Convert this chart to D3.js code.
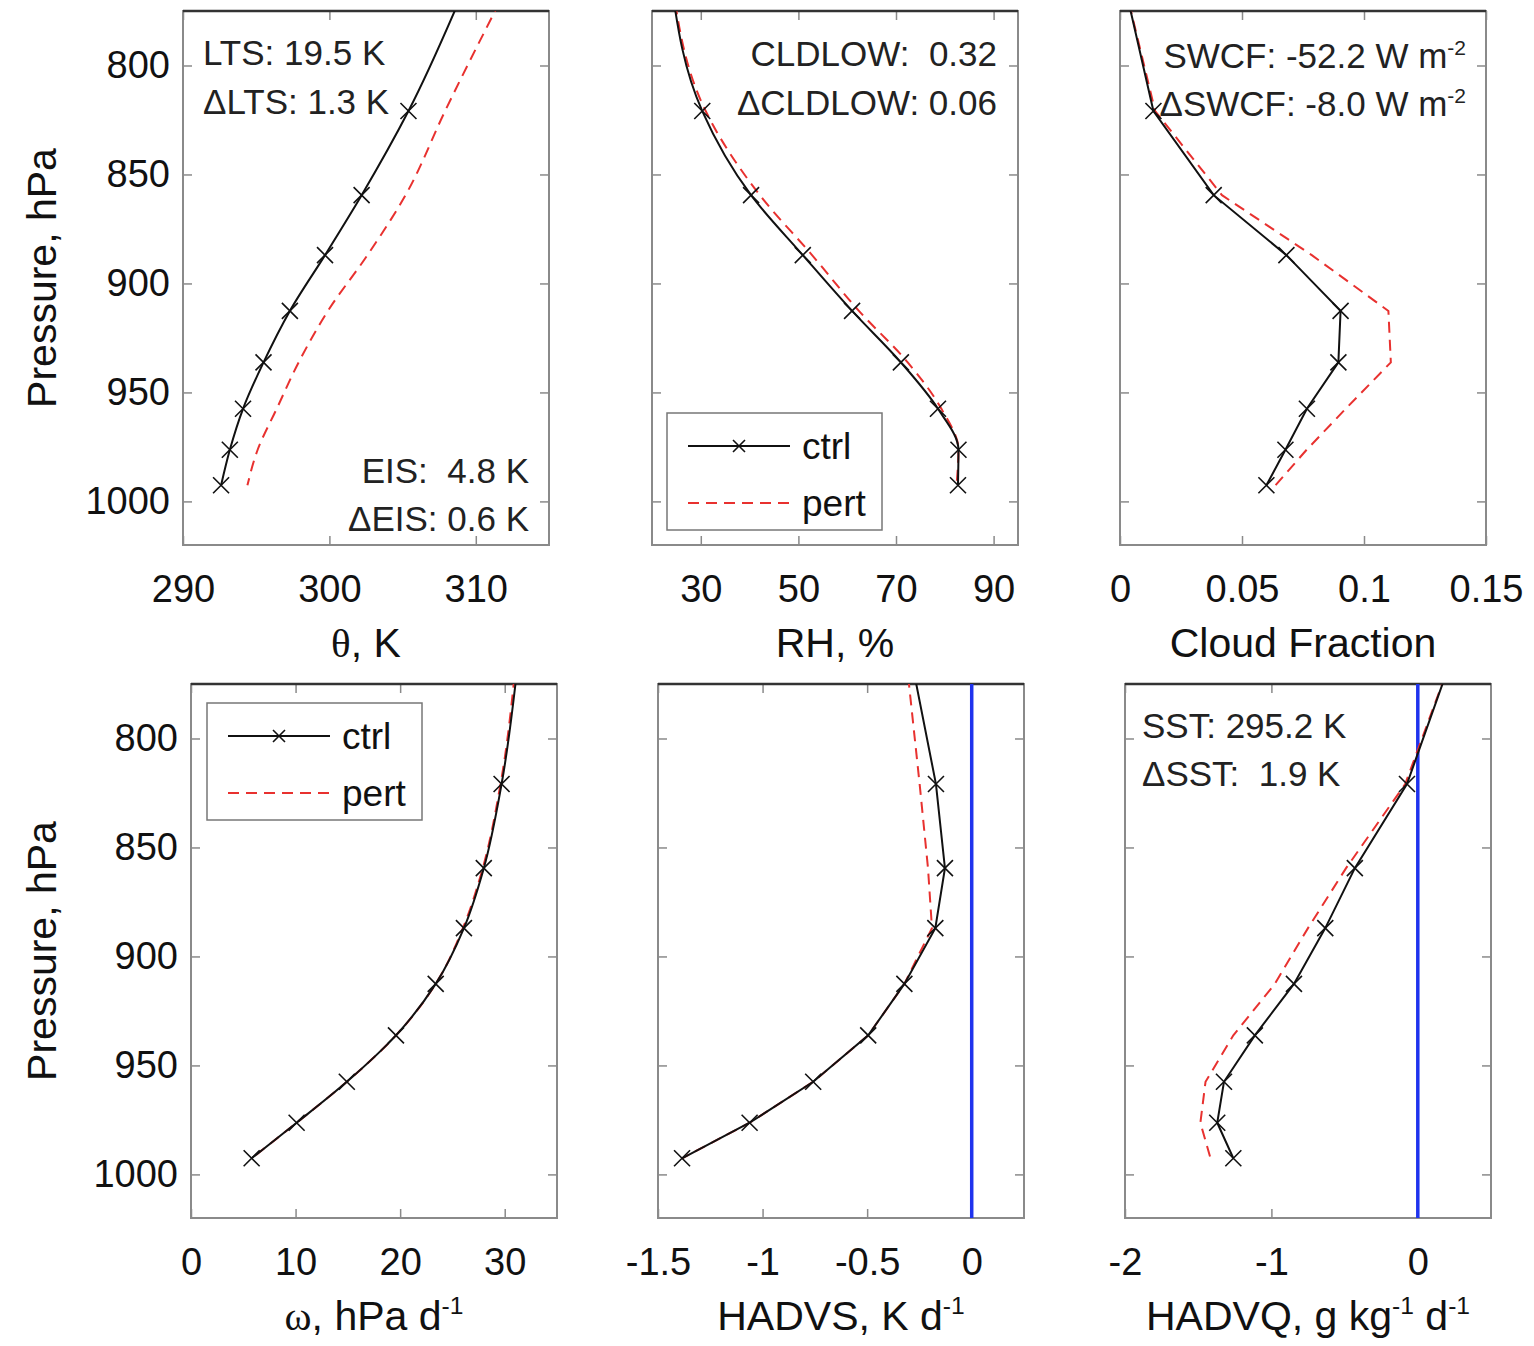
<!DOCTYPE html>
<html>
<head>
<meta charset="utf-8">
<script src="https://cdn.jsdelivr.net/npm/d3@7"></script>
<style>
  body { margin: 0; background: #fff; }
  svg { display: block; font-family: "Liberation Sans", Arial, sans-serif; }
  text { white-space: pre; }
</style>
</head>
<body>
<svg id="fig" width="1534" height="1346"></svg>
<script>
// model levels (hPa) near the surface
const levels = [763.4, 820.9, 859.5, 887.0, 912.6, 936.2, 957.5, 976.3, 992.6];

const thetaCtrl = [309.3, 305.4, 302.2, 299.7, 297.3, 295.5, 294.1, 293.2, 292.6];
const thetaPert = [312.2, 307.9, 305.2, 302.6, 299.9, 297.9, 296.4, 295.1, 294.4];

const rhCtrl = [24.0, 30.3, 40.3, 50.9, 61.0, 71.0, 78.6, 82.8, 82.7];
const rhPert = [24.2, 31.0, 42.1, 52.8, 62.4, 72.4, 79.3, 82.8, 82.4];

const cfCtrl = [0.002, 0.0137, 0.0384, 0.0682, 0.0904, 0.0895, 0.0766, 0.0678, 0.0600];
const cfPert = [0.002, 0.0144, 0.0418, 0.0786, 0.1100, 0.1110, 0.0925, 0.0765, 0.0637];

const omegaCtrl = [31.3, 29.7, 28.0, 26.1, 23.4, 19.6, 14.9, 10.1, 5.8];
const omegaPert = [31.1, 29.6, 27.9, 26.0, 23.4, 19.6, 14.9, 10.1, 5.8];

const hadvsCtrl = [-0.289, -0.171, -0.128, -0.174, -0.322, -0.495, -0.758, -1.062, -1.385];
const hadvsPert = [-0.313, -0.249, -0.209, -0.190, -0.322, -0.495, -0.758, -1.062, -1.385];

const hadvqCtrl = [0.23, -0.074, -0.43, -0.632, -0.846, -1.113, -1.324, -1.37, -1.26];
const hadvqPert = [0.23, -0.086, -0.49, -0.75, -0.977, -1.26, -1.45, -1.485, -1.416];

const pressureTicks = [800, 850, 900, 950, 1000];
const pressureDomain = [775, 1020];

const thetaTicks = [290, 300, 310];
const rhTicks = [30, 50, 70, 90];
const cfTicks = [0, 0.05, 0.1, 0.15];
const omegaTicks = [0, 10, 20, 30];
const hadvsTicks = [-1.5, -1, -0.5, 0];
const hadvqTicks = [-2, -1, 0];

const seriesNames = ["ctrl", "pert"];

const RED = "#e8312f", BLUE = "#1f33ee", FRAME = "#8a8a8a";

const svg = d3.select("#fig");

const panels = [
  { box: [183, 549, 11, 545], xd: [290, 315], xt: thetaTicks, ctrl: thetaCtrl, pert: thetaPert,
    title: [{t: "θ", serif: true}, {t: ", K"}], yLab: true, smooth: true },
  { box: [652, 1018, 11, 545], xd: [20, 95], xt: rhTicks, ctrl: rhCtrl, pert: rhPert,
    title: [{t: "RH, %"}], legend: [667, 413], smooth: true },
  { box: [1120, 1486, 11, 545], xd: [0, 0.15], xt: cfTicks, ctrl: cfCtrl, pert: cfPert,
    title: [{t: "Cloud Fraction"}] },
  { box: [191, 557, 684, 1218], xd: [0, 35], xt: omegaTicks, ctrl: omegaCtrl, pert: omegaPert,
    title: [{t: "ω", serif: true}, {t: ", hPa d"}, {t: "-1", sup: true}], yLab: true, legend: [207, 703], smooth: true },
  { box: [658, 1024, 684, 1218], xd: [-1.5, 0.25], xt: hadvsTicks, ctrl: hadvsCtrl, pert: hadvsPert,
    title: [{t: "HADVS, K d"}, {t: "-1", sup: true}], zero: true },
  { box: [1125, 1491, 684, 1218], xd: [-2, 0.5], xt: hadvqTicks, ctrl: hadvqCtrl, pert: hadvqPert,
    title: [{t: "HADVQ, g kg"}, {t: "-1", sup: true}, {t: " d"}, {t: "-1", sup: true}], zero: true }
];

// rich text helper (superscripts, serif greek letters)
function richText(sel, parts, size) {
  parts.forEach((p, i) => {
    const ts = sel.append("tspan").text(p.t);
    if (p.serif) ts.style("font-family", "'Liberation Serif', 'Times New Roman', serif");
    if (p.sup) {
      ts.attr("dy", -size * 0.38).style("font-size", (size * 0.6) + "px");
    } else if (i > 0 && parts[i - 1].sup) {
      ts.attr("dy", size * 0.38);
    }
  });
}

panels.forEach((pn, idx) => {
  const [x0, x1, y0, y1] = pn.box;
  const x = d3.scaleLinear().domain(pn.xd).range([x0, x1]);
  const y = d3.scaleLinear().domain(pressureDomain).range([y0, y1]);
  const g = svg.append("g");

  const clipId = "clip" + idx;
  svg.append("clipPath").attr("id", clipId)
    .append("rect").attr("x", x0).attr("y", y0).attr("width", x1 - x0).attr("height", y1 - y0);

  const fmt = d => String(d);

  // inward ticks on four sides, labels on bottom (and left column)
  g.append("g").attr("transform", `translate(0,${y1})`)
    .call(d3.axisBottom(x).tickValues(pn.xt).tickFormat(fmt).tickSizeInner(-9).tickSizeOuter(0).tickPadding(30));
  g.append("g").attr("transform", `translate(0,${y0})`)
    .call(d3.axisTop(x).tickValues(pn.xt).tickFormat("").tickSizeInner(-9).tickSizeOuter(0));
  g.append("g").attr("transform", `translate(${x0},0)`)
    .call(d3.axisLeft(y).tickValues(pressureTicks).tickFormat(pn.yLab ? fmt : "").tickSizeInner(-9).tickSizeOuter(0).tickPadding(13));
  g.append("g").attr("transform", `translate(${x1},0)`)
    .call(d3.axisRight(y).tickValues(pressureTicks).tickFormat("").tickSizeInner(-9).tickSizeOuter(0));
  g.selectAll(".domain").remove();
  g.selectAll(".tick line").attr("stroke", FRAME).attr("stroke-width", 1.5);
  g.selectAll(".tick text").attr("fill", "#111").style("font-size", "38px").style("font-family", "'Liberation Sans', Arial, sans-serif");

  // frame
  g.append("rect").attr("x", x0).attr("y", y0).attr("width", x1 - x0).attr("height", y1 - y0)
    .attr("fill", "none").attr("stroke", FRAME).attr("stroke-width", 2);
  g.append("line").attr("x1", x0).attr("x2", x1).attr("y1", y0).attr("y2", y0)
    .attr("stroke", "#333").attr("stroke-width", 2.5);

  const plot = g.append("g").attr("clip-path", `url(#${clipId})`);

  if (pn.zero) {
    plot.append("line").attr("x1", x(0)).attr("x2", x(0)).attr("y1", y0).attr("y2", y1)
      .attr("stroke", BLUE).attr("stroke-width", 3.5);
  }

  const line = d3.line().x(d => x(d[0])).y(d => y(d[1]))
    .curve(pn.smooth ? d3.curveMonotoneY : d3.curveLinear);
  const ctrlPts = pn.ctrl.map((v, i) => [v, levels[i]]);
  const pertPts = pn.pert.map((v, i) => [v, levels[i]]);

  plot.append("path").attr("d", line(pertPts)).attr("fill", "none")
    .attr("stroke", RED).attr("stroke-width", 2).attr("stroke-dasharray", "11,7");
  plot.append("path").attr("d", line(ctrlPts)).attr("fill", "none")
    .attr("stroke", "#111").attr("stroke-width", 2);
  plot.selectAll(".mk").data(ctrlPts).join("path").attr("class", "mk")
    .attr("transform", d => `translate(${x(d[0])},${y(d[1])})`)
    .attr("d", "M-8,-8L8,8M-8,8L8,-8")
    .attr("stroke", "#111").attr("stroke-width", 1.6).attr("fill", "none");

  // axis titles
  const xt = svg.append("text").attr("x", (x0 + x1) / 2).attr("y", y1 + 112)
    .attr("text-anchor", "middle").style("font-size", "41px").attr("fill", "#111");
  richText(xt, pn.title, 41);

  if (pn.yLab) {
    svg.append("text").attr("transform", `translate(56,${(y0 + y1) / 2}) rotate(-90)`)
      .attr("text-anchor", "middle").style("font-size", "41px").attr("fill", "#111")
      .text("Pressure, hPa");
  }

  if (pn.legend) {
    const [lx, ly] = pn.legend;
    const lg = svg.append("g").attr("transform", `translate(${lx},${ly})`);
    lg.append("rect").attr("width", 215).attr("height", 117)
      .attr("fill", "#fff").attr("stroke", "#777").attr("stroke-width", 1.5);
    seriesNames.forEach((name, i) => {
      const ly2 = 33 + i * 57;
      lg.append("line").attr("x1", 21).attr("x2", 123).attr("y1", ly2).attr("y2", ly2)
        .attr("stroke", i === 0 ? "#111" : RED).attr("stroke-width", 2)
        .attr("stroke-dasharray", i === 0 ? null : "11,7");
      if (i === 0) {
        lg.append("path").attr("transform", `translate(72,${ly2})`)
          .attr("d", "M-6,-6L6,6M-6,6L6,-6").attr("stroke", "#111").attr("stroke-width", 1.6);
      }
      lg.append("text").attr("x", 135).attr("y", ly2 + 13).style("font-size", "37px")
        .attr("fill", "#111").text(name);
    });
  }
});

// annotations
function note(xp, yp, anchor, parts) {
  const t = svg.append("text").attr("x", xp).attr("y", yp).attr("text-anchor", anchor)
    .style("font-size", "35px").attr("fill", "#222");
  richText(t, parts, 35);
}
note(203, 65, "start", [{t: "LTS: 19.5 K"}]);
note(203, 114, "start", [{t: "ΔLTS: 1.3 K"}]);
note(529, 483, "end", [{t: "EIS:  4.8 K"}]);
note(529, 531, "end", [{t: "ΔEIS: 0.6 K"}]);
note(997, 66, "end", [{t: "CLDLOW:  0.32"}]);
note(997, 115, "end", [{t: "ΔCLDLOW: 0.06"}]);
note(1466, 68, "end", [{t: "SWCF: -52.2 W m"}, {t: "-2", sup: true}]);
note(1466, 116, "end", [{t: "ΔSWCF: -8.0 W m"}, {t: "-2", sup: true}]);
note(1142, 738, "start", [{t: "SST: 295.2 K"}]);
note(1142, 786, "start", [{t: "ΔSST:  1.9 K"}]);
</script>
</body>
</html>
